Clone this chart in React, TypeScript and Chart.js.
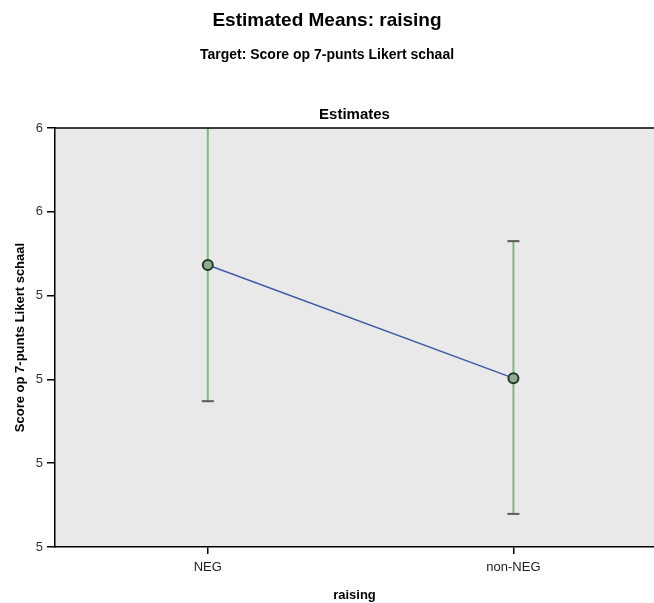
import React, { useEffect, useRef } from "react";
import { Chart, registerables } from "chart.js";

Chart.register(...registerables);

const categories = ["NEG", "non-NEG"];
const means = [5.473, 5.203];
const lowerCI = [5.148, 4.879];
const upperCI = [5.95, 5.53];
const yTickValues = [4.8, 5.0, 5.2, 5.4, 5.6, 5.8];
const yTickLabels = ["5", "5", "5", "5", "6", "6"];

const FONT = "'Liberation Sans', Arial, sans-serif";

const decorPlugin = {
  id: "decor",
  beforeDraw(chart: any) {
    const { ctx, chartArea: a } = chart;
    ctx.save();
    ctx.fillStyle = "#e9e9e9";
    ctx.fillRect(a.left, a.top, a.right - a.left, a.bottom - a.top);
    ctx.restore();
  },
  beforeDatasetsDraw(chart: any) {
    const { ctx, chartArea: a, scales } = chart;
    const xs = scales.x;
    const ys = scales.y;
    ctx.save();
    ctx.beginPath();
    ctx.rect(a.left, a.top, a.right - a.left, a.bottom - a.top);
    ctx.clip();
    categories.forEach((_, i) => {
      const x = xs.getPixelForValue(i);
      const yl = ys.getPixelForValue(lowerCI[i]);
      const yu = ys.getPixelForValue(upperCI[i]);
      ctx.strokeStyle = "#80b880";
      ctx.lineWidth = 2;
      ctx.beginPath();
      ctx.moveTo(x, yl);
      ctx.lineTo(x, yu);
      ctx.stroke();
      ctx.strokeStyle = "#5a5a5a";
      ctx.lineWidth = 2;
      [yl, yu].forEach((y) => {
        ctx.beginPath();
        ctx.moveTo(x - 6, y);
        ctx.lineTo(x + 6, y);
        ctx.stroke();
      });
    });
    ctx.restore();
  },
  afterDraw(chart: any) {
    const { ctx, chartArea: a, width } = chart;
    ctx.save();
    ctx.strokeStyle = "#000";
    ctx.lineWidth = 1.5;
    ctx.beginPath();
    ctx.moveTo(a.left, a.top);
    ctx.lineTo(a.right, a.top);
    ctx.stroke();
    ctx.fillStyle = "#000";
    ctx.textAlign = "center";
    ctx.textBaseline = "middle";
    ctx.font = `bold 19px ${FONT}`;
    ctx.fillText("Estimated Means: raising", width / 2, 21);
    ctx.font = `bold 14px ${FONT}`;
    ctx.fillText("Target: Score op 7-punts Likert schaal", width / 2, 55);
    ctx.font = `bold 15px ${FONT}`;
    ctx.fillText("Estimates", (a.left + a.right) / 2, 115);
    ctx.restore();
  },
};

export default function App() {
  const ref = useRef<HTMLCanvasElement>(null);
  useEffect(() => {
    if (!ref.current) return;
    const chart = new Chart(ref.current, {
      type: "line",
      data: {
        datasets: [
          {
            data: categories.map((_, i) => ({ x: i, y: means[i] })),
            borderColor: "#3f5aa8",
            borderWidth: 1.5,
            pointRadius: 5,
            pointBorderWidth: 2,
            pointBorderColor: "#1f3a28",
            pointBackgroundColor: "#8fae8f",
            clip: false as any,
          },
        ],
      },
      options: {
        animation: false,
        responsive: false,
        events: [],
        layout: { autoPadding: false, padding: { top: 128, left: 0, right: 0, bottom: 0 } },
        plugins: { legend: { display: false }, tooltip: { enabled: false } },
        scales: {
          x: {
            type: "linear",
            min: -0.5,
            max: 1.46,
            afterBuildTicks: (s: any) => {
              s.ticks = categories.map((_, i) => ({ value: i }));
            },
            afterFit: (s: any) => {
              s.height = 56;
              s.paddingRight = 0;
              s.paddingLeft = 0;
            },
            ticks: {
              callback: (v: any) => categories[v] ?? "",
              color: "#222",
              font: { family: FONT, size: 13 },
              padding: 6,
            },
            grid: { drawOnChartArea: false, drawTicks: true, tickLength: 7, color: "#000", lineWidth: 1.5 },
            border: { display: true, color: "#000", width: 1.5 },
            title: {
              display: true,
              text: "raising",
              color: "#000",
              font: { family: FONT, size: 13, weight: "bold" },
              padding: { top: 2, bottom: 0 },
            },
          },
          y: {
            type: "linear",
            min: 4.8,
            max: 5.8,
            afterBuildTicks: (s: any) => {
              s.ticks = yTickValues.map((v) => ({ value: v }));
            },
            afterFit: (s: any) => {
              s.width = 55;
              s.paddingTop = 0;
              s.paddingBottom = 0;
            },
            ticks: {
              callback: (v: any) => {
                const i = yTickValues.findIndex((t) => Math.abs(t - v) < 1e-6);
                return i >= 0 ? yTickLabels[i] : "";
              },
              color: "#333",
              font: { family: FONT, size: 13 },
              padding: 4,
            },
            grid: { drawOnChartArea: false, drawTicks: true, tickLength: 8, color: "#000", lineWidth: 1.5 },
            border: { display: true, color: "#000", width: 1.5 },
            title: {
              display: true,
              text: "Score op 7-punts Likert schaal",
              color: "#000",
              font: { family: FONT, size: 13, weight: "bold" },
              padding: { top: 13, bottom: 4 },
            },
          },
        },
      },
      plugins: [decorPlugin],
    } as any);
    return () => chart.destroy();
  }, []);
  return (
    <div style={{ position: "absolute", left: 0, top: 0, width: 654, height: 603, background: "#fff" }}>
      <canvas ref={ref} width={654} height={603} style={{ display: "block" }} />
    </div>
  );
}
